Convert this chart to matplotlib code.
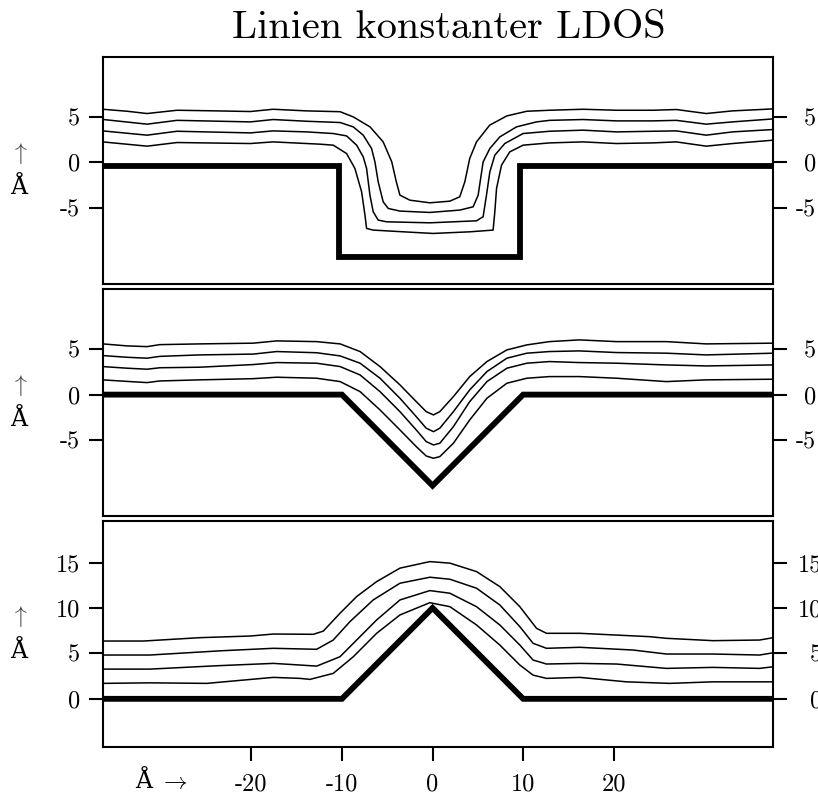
import matplotlib
matplotlib.use("Agg")
import matplotlib.pyplot as plt
from matplotlib.transforms import ScaledTranslation

# substrate profiles (thick lines)
top_sub_x = [-36.4, -10.35, -10.35, 9.6, 9.6, 37.6]
top_sub_y = [-0.4, -0.4, -10.4, -10.4, -0.4, -0.4]
mid_sub_x = [-36.4, -10.0, 0.0, 10.0, 37.6]
mid_sub_y = [0.0, 0.0, -10.0, 0.0, 0.0]
bot_sub_x = [-36.4, -10.0, 0.0, 10.0, 37.6]
bot_sub_y = [0.0, 0.0, 10.0, 0.0, 0.0]

# top panel: lines of constant LDOS over the step well
top_x1 = [-36.4, -33.7, -31.5, -28.2, -23.8, -20.1, -17.6, -13.9, -10.2, -8.75, -6.9, -5.45, -4.5,
          -4.0, -3.6, -2.5, -0.3, 1.9, 3.0, 3.56, 4.1, 4.85, 6.3, 8.2, 10.4, 12.9, 16.6, 20.3, 24.3,
          26.9, 30.2, 33.1, 37.6]
top_y1 = [5.82, 5.6, 5.35, 5.71, 5.64, 5.57, 5.82, 5.64, 5.55, 4.98, 3.88, 2.23, 0.03,
          -2.16, -3.63, -4.18, -4.47, -4.29, -3.81, -2.16, 0.4, 2.23, 4.07, 5.09, 5.6, 5.71, 5.82, 5.71, 5.71,
          5.79, 5.35, 5.64, 5.86]
top_x2 = [-36.4, -31.5, -28.2, -20.1, -17.6, -13.9, -10.2, -8.75, -7.65, -6.73, -6.36, -6.0, -5.45,
          -4.89, -3.6, -0.3, 3.01, 4.48, 5.03, 5.58, 6.32, 7.42, 9.26, 11.47, 12.93, 16.6, 20.3, 24.3,
          26.9, 30.2, 33.1, 37.6]
top_y2 = [4.7, 4.18, 4.6, 4.43, 4.69, 4.5, 4.36, 3.88, 2.97, 1.5, 0.03, -2.16, -4.36,
          -5.09, -5.38, -5.53, -5.27, -4.91, -3.63, 0.03, 1.5, 2.78, 3.88, 4.43, 4.6, 4.69, 4.54, 4.54,
          4.6, 4.18, 4.43, 4.76]
top_x3 = [-36.4, -31.5, -28.2, -20.1, -17.6, -13.9, -10.96, -9.49, -8.38, -7.65, -7.28, -6.91, -6.55,
          -6.0, -5.07, -0.3, 4.85, 5.58, 5.95, 6.32, 6.87, 7.97, 9.99, 12.93, 16.6, 20.3, 24.3, 26.9,
          30.2, 33.1, 37.6]
top_y3 = [3.44, 2.97, 3.4, 3.22, 3.44, 3.33, 3.15, 2.89, 1.87, 0.58, -0.69, -3.63, -5.46,
          -6.37, -6.56, -6.67, -6.45, -6.0, -3.63, -1.07, 0.77, 2.05, 3.15, 3.4, 3.52, 3.33, 3.4, 3.44,
          2.97, 3.33, 3.59]
top_x4 = [-36.4, -31.5, -28.2, -20.1, -17.6, -12.43, -10.96, -9.49, -8.57, -7.83, -7.46, -7.28, -6.55,
          -3.24, 0.07, 4.11, 6.68, 6.87, 7.06, 7.61, 8.52, 9.99, 12.93, 16.6, 20.3, 24.3, 26.9, 30.2,
          33.1, 37.6]
top_y4 = [2.23, 1.76, 2.16, 2.05, 2.23, 1.98, 1.87, 0.95, -0.69, -3.26, -5.82, -7.29, -7.47,
          -7.66, -7.84, -7.66, -7.47, -5.46, -2.89, -0.33, 1.13, 1.87, 2.12, 2.23, 2.05, 2.12, 2.23, 1.76,
          2.05, 2.42]

# middle panel: V groove
mid_x = [-36.4, -33.7, -31.5, -30.1, -25.7, -19.8, -17.2, -12.8, -10.2, -8.0, -5.8, -3.6, -1.8, -0.7,
         0.1, 0.8, 2.3, 4.1, 6.0, 8.2, 10.4, 12.9, 16.2, 20.3, 25.8, 30.2, 37.6]
mid_y1 = [5.57, 5.35, 5.27, 5.49, 5.57, 5.65, 5.9, 5.82, 5.57, 4.73, 3.08, 1.07, -0.77, -1.87,
          -2.23, -1.87, -0.22, 1.98, 3.63, 4.91, 5.46, 5.82, 6.01, 5.82, 5.82, 5.57, 5.65]
mid_y2 = [4.29, 4.1, 4.0, 4.2, 4.36, 4.45, 4.73, 4.6, 4.25, 3.45, 1.8, -0.4, -2.42, -3.69,
          -4.07, -3.69, -1.87, 0.52, 2.53, 4.0, 4.55, 4.73, 4.8, 4.62, 4.55, 4.36, 4.55]
mid_y3 = [3.08, 2.9, 2.79, 2.95, 3.01, 3.3, 3.52, 3.45, 3.08, 2.16, 0.33, -1.87, -3.88, -5.16,
          -5.53, -5.34, -3.52, -0.77, 1.43, 2.9, 3.45, 3.63, 3.52, 3.45, 3.26, 3.15, 3.26]
mid_y4 = [1.62, 1.45, 1.32, 1.5, 1.62, 1.75, 1.91, 1.8, 1.43, 0.33, -1.68, -3.88, -5.71, -6.74,
          -6.99, -6.81, -5.34, -2.78, -0.4, 1.25, 1.8, 1.98, 1.98, 1.8, 1.43, 1.62, 1.69]

# bottom panel: ridge
bot_x1 = [-36.4, -31.9, -25.66, -20.14, -17.57, -13.16, -12.06, -10.22, -8.38, -6.17, -3.6, -0.3, 1.91,
          4.85, 7.42, 9.63, 11.47, 12.57, 16.24, 23.96, 25.8, 30.94, 36.09, 37.6]
bot_y1 = [6.36, 6.36, 6.73, 6.91, 7.13, 7.1, 7.45, 9.41, 11.25, 12.9, 14.38, 15.1, 14.93,
          14.0, 12.35, 10.14, 7.76, 7.21, 7.21, 6.84, 6.66, 6.4, 6.47, 6.73]
bot_x2 = [-36.4, -31.2, -23.3, -17.57, -12.79, -10.96, -9.12, -6.55, -3.6, -0.3, 1.91, 4.85, 7.42,
          9.63, 11.09, 12.57, 16.24, 22.12, 25.8, 30.94, 36.09, 37.6]
bot_y2 = [4.82, 4.82, 5.29, 5.56, 5.45, 6.47, 8.49, 10.88, 12.72, 13.38, 13.16, 12.17, 10.33,
          7.94, 6.11, 5.56, 5.67, 5.37, 4.93, 4.93, 4.82, 5.07]
bot_x3 = [-36.4, -31.17, -23.81, -17.57, -14.63, -12.79, -10.22, -8.38, -6.17, -3.6, -0.3, 1.91, 4.85,
          7.42, 9.63, 11.09, 12.57, 16.24, 20.29, 25.8, 30.94, 36.09, 37.6]
bot_y3 = [3.27, 3.27, 3.64, 3.9, 3.72, 3.6, 4.63, 6.47, 8.68, 10.88, 11.91, 11.62, 10.14,
          8.13, 5.92, 4.27, 3.83, 3.9, 3.83, 3.35, 3.46, 3.35, 3.53]
bot_x4 = [-36.4, -31.17, -24.92, -17.57, -14.63, -13.53, -10.96, -8.75, -6.17, -3.6, -0.3, 1.91, 4.85,
          7.42, 9.63, 11.09, 12.57, 16.24, 21.39, 26.16, 30.94, 37.6]
bot_y4 = [1.7, 1.76, 1.7, 2.36, 2.25, 2.14, 2.8, 4.63, 7.21, 9.23, 10.58, 10.14, 8.13,
          5.92, 3.72, 2.61, 2.25, 2.36, 1.87, 1.7, 1.87, 1.87]

top_yticks = [-5, 0, 5]
mid_yticks = [-5, 0, 5]
bot_yticks = [0, 5, 10, 15]
bot_xticks = [-20, -10, 0, 10, 20]

plt.rcParams["font.family"] = ["cmr10", "DejaVu Serif"]
plt.rcParams["mathtext.fontset"] = "cm"

W, H = 818, 798
fig = plt.figure(figsize=(W / 100, H / 100), dpi=100)
left, right = 102.7, 773.3
boxes = [(56.7, 284.0), (289.0, 515.7), (520.7, 747.0)]
axes = [fig.add_axes([left / W, 1 - b / H, (right - left) / W, (b - t) / H]) for t, b in boxes]


def style(ax, ylim, yticks, rshift):
    ax.set_xlim(-36.4, 37.6)
    ax.set_ylim(*ylim)
    for s in ax.spines.values():
        s.set_linewidth(1.5)
    ax.set_yticks(yticks, [str(v) for v in yticks])
    ax.tick_params(axis="y", direction="out", length=9.9, width=1.5, left=True, right=True,
                   labelleft=True, labelright=True, labelsize=17.5, pad=6.5)
    off = ScaledTranslation(rshift / 100, 0, fig.dpi_scale_trans)
    for t in ax.yaxis.get_major_ticks():
        t.label2.set_horizontalalignment("right")
        t.label2.set_transform(t.label2.get_transform() + off)
    ax.text(-0.1248, 0.575, r"$\uparrow$", transform=ax.transAxes, ha="center", va="center",
            fontsize=17, color="0.25")
    ax.text(-0.1248, 0.421, "Å", transform=ax.transAxes, ha="center", va="center", fontsize=17)


sub_kw = dict(color="black", lw=4.2, solid_capstyle="round", solid_joinstyle="miter")
thin_kw = dict(color="black", lw=1.1)

ax = axes[0]
ax.plot(top_sub_x, top_sub_y, **sub_kw)
for xs, ys in [(top_x1, top_y1), (top_x2, top_y2), (top_x3, top_y3), (top_x4, top_y4)]:
    ax.plot(xs, ys, **thin_kw)
style(ax, (-13.4, 11.6), top_yticks, 20)
ax.tick_params(axis="x", bottom=False, labelbottom=False)

ax = axes[1]
ax.plot(mid_sub_x, mid_sub_y, **sub_kw)
for ys in [mid_y1, mid_y2, mid_y3, mid_y4]:
    ax.plot(mid_x, ys, **thin_kw)
style(ax, (-13.3, 11.6), mid_yticks, 20)
ax.tick_params(axis="x", bottom=False, labelbottom=False)

ax = axes[2]
ax.plot(bot_sub_x, bot_sub_y, **sub_kw)
for xs, ys in [(bot_x1, bot_y1), (bot_x2, bot_y2), (bot_x3, bot_y3), (bot_x4, bot_y4)]:
    ax.plot(xs, ys, **thin_kw)
style(ax, (-5.3, 19.6), bot_yticks, 26)
ax.set_xticks(bot_xticks, [str(v) for v in bot_xticks])
ax.tick_params(axis="x", direction="out", length=9.9, width=1.5, labelsize=17.5, pad=9)
ax.text(143.5 / W, 1 - 782 / H, "Å", transform=fig.transFigure, ha="center", va="center", fontsize=17)
ax.text(173.5 / W, 1 - 782 / H, r"$\rightarrow$", transform=fig.transFigure, ha="center",
        va="center", fontsize=17)

fig.text(449 / W, 1 - 38 / H, "Linien konstanter LDOS", ha="center", va="baseline", fontsize=29)

fig.savefig("out.png", dpi=100)
